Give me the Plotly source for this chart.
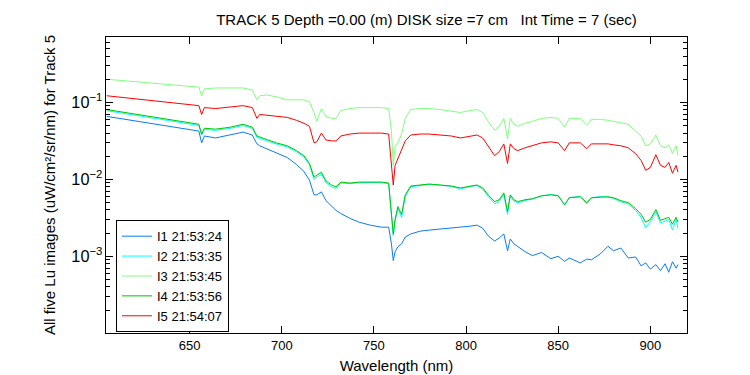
import plotly.graph_objects as go

wavelength = [605, 615, 625, 635, 645, 652, 655, 656.5, 658, 664, 672, 679, 684, 686.5, 688, 692, 697, 703, 708, 712,
              715, 717.5, 719, 721.5, 724, 727, 729.5, 732, 737, 742, 748, 754, 758, 759.5, 760.5, 761.5, 763, 765, 767, 770,
              775, 780, 786, 792, 797, 802, 806, 809, 812, 815.5, 818, 820.5, 822.5, 824, 826, 828, 832, 836, 841, 846,
              850, 853.5, 856, 862, 865.5, 868, 873, 877, 880, 884, 888, 892, 895, 897.5, 900, 903, 905.5, 908, 910, 912,
              914, 915]

I1 = [0.0658, 0.0602, 0.0551, 0.0505, 0.0462, 0.0436, 0.0424, 0.0298, 0.0366, 0.0345, 0.0377, 0.0411, 0.0377, 0.0289,
      0.0273, 0.0250, 0.0222, 0.0192, 0.0156, 0.0127, 0.00977, 0.00629, 0.00629, 0.00687, 0.00528, 0.00443, 0.00394,
      0.00360, 0.00311, 0.00277, 0.00254, 0.00239, 0.00239, 0.00145, 0.000881, 0.00115, 0.00133, 0.00145, 0.00178,
      0.00195, 0.00212, 0.00219, 0.00225, 0.00232, 0.00239, 0.00246, 0.00254, 0.00232, 0.00184, 0.00158, 0.00173,
      0.00195, 0.00118, 0.00168, 0.00145, 0.00133, 0.00115, 0.00102, 0.00112, 0.00093, 0.00100, 0.00086, 0.00095,
      0.00082, 0.00092, 0.00090, 0.00108, 0.00135, 0.00118, 0.00128, 0.00095, 0.00098, 0.00075, 0.00082, 0.00068,
      0.00078, 0.00065, 0.00080, 0.00062, 0.00085, 0.00070, 0.00078]

I2 = [0.0780, 0.0712, 0.0652, 0.0598, 0.0548, 0.0518, 0.0502, 0.0375, 0.0446, 0.0434, 0.0460, 0.0502, 0.0460, 0.0352,
      0.0342, 0.0314, 0.0288, 0.0264, 0.0228, 0.0196, 0.0155, 0.0100, 0.0106, 0.0118, 0.0090, 0.00800, 0.00760,
      0.00895, 0.00880, 0.00905, 0.00910, 0.00905, 0.00880, 0.00390, 0.00185, 0.00290, 0.00420, 0.00320, 0.00600,
      0.00800, 0.00835, 0.00860, 0.00840, 0.00810, 0.00750, 0.00810, 0.00830, 0.00750, 0.00600, 0.00480, 0.00515,
      0.00640, 0.00350, 0.00600, 0.00520, 0.00495, 0.00530, 0.00555, 0.00610, 0.00635, 0.00615, 0.00460, 0.00580,
      0.00600, 0.00480, 0.00575, 0.00600, 0.00590, 0.00565, 0.00510, 0.00480, 0.00395, 0.00320, 0.00235, 0.00280,
      0.00380, 0.00270, 0.00290, 0.00300, 0.00220, 0.00300, 0.00230]

I3 = [0.200, 0.191, 0.183, 0.175, 0.167, 0.162, 0.158, 0.122, 0.150, 0.154, 0.154, 0.154, 0.145, 0.108, 0.122, 0.125,
      0.118, 0.108, 0.108, 0.108, 0.102, 0.0739, 0.0568, 0.0832, 0.0658, 0.0620, 0.0620, 0.0784, 0.0832, 0.0856,
      0.0856, 0.0856, 0.0832, 0.0424, 0.0152, 0.0273, 0.0298, 0.0388, 0.0620, 0.0807, 0.0832, 0.0832, 0.0807, 0.0761,
      0.0739, 0.0784, 0.0807, 0.0739, 0.0568, 0.0436, 0.0490, 0.0620, 0.0335, 0.0620, 0.0520, 0.0490, 0.0536, 0.0568,
      0.0620, 0.0638, 0.0620, 0.0476, 0.0620, 0.0620, 0.0505, 0.0602, 0.0602, 0.0585, 0.0568, 0.0551, 0.0520, 0.0424,
      0.0366, 0.0273, 0.0289, 0.0377, 0.0273, 0.0257, 0.0281, 0.0216, 0.0273, 0.0203]

I4 = [0.0807, 0.0739, 0.0677, 0.0620, 0.0568, 0.0536, 0.0520, 0.0388, 0.0462, 0.0449, 0.0476, 0.0520, 0.0476, 0.0366,
      0.0355, 0.0325, 0.0298, 0.0273, 0.0236, 0.0203, 0.0161, 0.0107, 0.0113, 0.0124, 0.0095, 0.00844, 0.00796,
      0.00921, 0.00895, 0.00921, 0.00921, 0.00921, 0.00895, 0.00405, 0.00195, 0.00302, 0.00443, 0.00350, 0.00629,
      0.00819, 0.00844, 0.00869, 0.00844, 0.00819, 0.00773, 0.00819, 0.00844, 0.00773, 0.00629, 0.00513, 0.00543,
      0.00667, 0.00382, 0.00629, 0.00543, 0.00513, 0.00543, 0.00560, 0.00611, 0.00629, 0.00611, 0.00469, 0.00577,
      0.00593, 0.00498, 0.00577, 0.00593, 0.00593, 0.00577, 0.00528, 0.00498, 0.00417, 0.00350, 0.00277, 0.00302,
      0.00405, 0.00293, 0.00311, 0.00321, 0.00261, 0.00321, 0.00277]

I5 = [0.122, 0.115, 0.108, 0.102, 0.0963, 0.0921, 0.0908, 0.0697, 0.0856, 0.0832, 0.0882, 0.0908, 0.0856, 0.0620,
      0.0697, 0.0677, 0.0658, 0.0638, 0.0585, 0.0536, 0.0490, 0.0298, 0.0307, 0.0399, 0.0325, 0.0316, 0.0316, 0.0366,
      0.0388, 0.0399, 0.0399, 0.0399, 0.0388, 0.0152, 0.00844, 0.0152, 0.0186, 0.0236, 0.0316, 0.0377, 0.0388, 0.0388,
      0.0377, 0.0366, 0.0345, 0.0366, 0.0377, 0.0345, 0.0273, 0.0203, 0.0229, 0.0289, 0.0161, 0.0289, 0.0250, 0.0236,
      0.0257, 0.0273, 0.0298, 0.0307, 0.0298, 0.0236, 0.0298, 0.0298, 0.0250, 0.0289, 0.0289, 0.0289, 0.0281, 0.0273,
      0.0257, 0.0216, 0.0176, 0.0131, 0.0143, 0.0209, 0.0152, 0.0143, 0.0166, 0.0120, 0.0152, 0.0124]

series_names = ["I1 21:53:24", "I2 21:53:35", "I3 21:53:45", "I4 21:53:56", "I5 21:54:07"]
series_values = [I1, I2, I3, I4, I5]
series_colors = ["#0a7cf5", "#00ffff", "#80ff80", "#00c400", "#ff0000"]

FONT = "Liberation Sans, Arial, sans-serif"

fig = go.Figure()
for name, vals, col in zip(series_names, series_values, series_colors):
    fig.add_trace(go.Scatter(x=wavelength, y=vals, mode="lines", name=name,
                             line=dict(color=col, width=1)))

fig.update_layout(
    width=750, height=375,
    margin=dict(l=98, r=71, t=29, b=44),
    paper_bgcolor="white", plot_bgcolor="white",
    font=dict(family=FONT, size=14, color="black"),
    title=dict(text="TRACK 5 Depth =0.00 (m) DISK size =7 cm\u00a0\u00a0\u00a0Int Time = 7 (sec)",
               x=0.5516, xref="paper", xanchor="center",
               y=1 - 12 / 375, yref="container", yanchor="middle",
               font=dict(family=FONT, size=15, color="black")),
    showlegend=True,
    legend=dict(x=0.0172, y=0.381, xanchor="left", yanchor="top",
                bgcolor="white", bordercolor="black", borderwidth=1,
                font=dict(family=FONT, size=13, color="black"),
                tracegroupgap=0),
)

fig.update_xaxes(range=[604.6, 919.9], dtick=50, tick0=650,
                 showline=True, linecolor="black", linewidth=1, mirror="ticks",
                 ticks="inside", ticklen=7, tickcolor="black", showgrid=False, zeroline=False,
                 tickfont=dict(family=FONT, size=13),
                 title=dict(text="Wavelength (nm)", font=dict(family=FONT, size=15), standoff=8))

fig.update_yaxes(type="log", range=[-3.997, -0.150], dtick=1, exponentformat="power",
                 showline=True, linecolor="black", linewidth=1, mirror="ticks",
                 ticks="inside", ticklen=7, tickcolor="black", showgrid=False, zeroline=False,
                 minor=dict(ticks="inside", ticklen=4, tickcolor="black", dtick="D1", showgrid=False),
                 tickfont=dict(family=FONT, size=13),
                 title=dict(text="All five Lu images (uW/cm\u00b2/sr/nm) for Track 5",
                            font=dict(family=FONT, size=15), standoff=12))

fig.write_html("out.html")
